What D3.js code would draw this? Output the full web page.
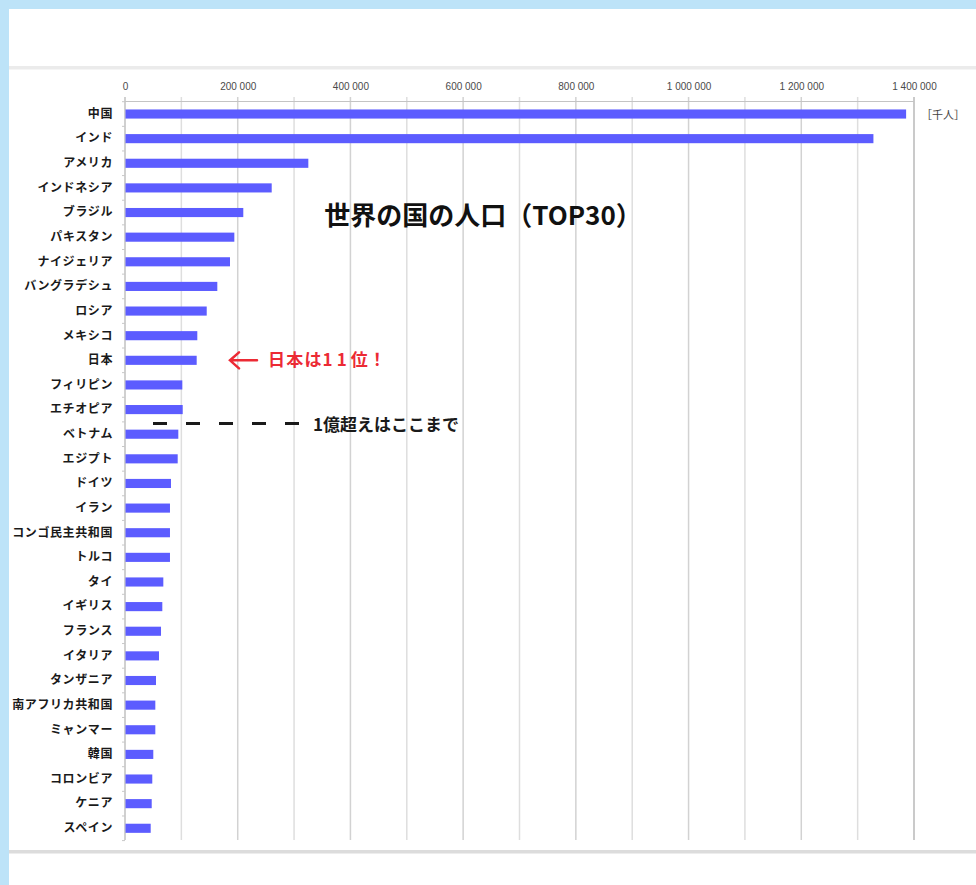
<!DOCTYPE html>
<html><head><meta charset="utf-8">
<script src="https://cdn.jsdelivr.net/npm/d3@7"></script>
<style>
html,body{margin:0;padding:0;background:#fff;}
svg{display:block;}
</style></head>
<body>
<svg id="chart" width="976" height="885"></svg>
<script>
const countries = ["中国","インド","アメリカ","インドネシア","ブラジル","パキスタン","ナイジェリア","バングラデシュ","ロシア","メキシコ","日本","フィリピン","エチオピア","ベトナム","エジプト","ドイツ","イラン","コンゴ民主共和国","トルコ","タイ","イギリス","フランス","イタリア","タンザニア","南アフリカ共和国","ミャンマー","韓国","コロンビア","ケニア","スペイン"];
const population = [1386000,1328000,325300,260300,209900,194000,186300,163800,145000,128300,127200,101700,102400,94600,93500,81600,79800,79800,79800,68000,66200,63900,60300,55000,53800,53800,50200,48400,47400,45600];
const majorTicks = [0,200000,400000,600000,800000,1000000,1200000,1400000];
const gridTicks = [0,100000,200000,300000,400000,500000,600000,700000,800000,900000,1000000,1100000,1200000,1300000,1400000];
const unitLabel = "［千人］";
const titleText = "世界の国の人口（TOP30）";
const overNote = "1億超えはここまで";

(function(){
const svg = d3.select("#chart");
const W = 976, H = 885;

// frame
svg.append("rect").attr("x",0).attr("y",0).attr("width",W).attr("height",H).attr("fill","#fff");
svg.append("rect").attr("x",0).attr("y",0).attr("width",W).attr("height",9).attr("fill","#bde3f8");
svg.append("rect").attr("x",0).attr("y",0).attr("width",9).attr("height",H).attr("fill","#bde3f8");
svg.append("rect").attr("x",9).attr("y",66).attr("width",W-9).attr("height",3.5).attr("fill","#ebebeb");
svg.append("rect").attr("x",9).attr("y",850).attr("width",W-9).attr("height",3.5).attr("fill","#dcdcdc");

const x = d3.scaleLinear().domain([0,1400000]).range([125,914]);
const y = d3.scaleBand().domain(countries).range([101.7,840.6]).paddingInner(0.63).paddingOuter(0.315);

const axisY = 101.5, bottomY = 840;

// gridlines
svg.append("g").selectAll("line").data(gridTicks).join("line")
  .attr("x1",d=>x(d)).attr("x2",d=>x(d))
  .attr("y1",97).attr("y2",bottomY)
  .attr("stroke",d=> d===1400000 ? "#b8b8b8" : (d%200000===0 ? "#d2d2d2" : "#dedede"))
  .attr("stroke-width",1.5);

// top axis line
svg.append("line").attr("x1",x(0)).attr("x2",x(1400000)).attr("y1",axisY).attr("y2",axisY)
  .attr("stroke","#c4c4c4").attr("stroke-width",1);

// top axis labels
const fmt = v => d3.format(",")(v).replace(/,/g," ");
const xAxis = d3.axisTop(x).tickValues(majorTicks).tickSize(0).tickPadding(12).tickFormat(fmt);
const gx = svg.append("g").attr("transform",`translate(0,${axisY})`).call(xAxis);
gx.select(".domain").remove();
gx.selectAll("text").attr("font-family","'Liberation Sans Narrow','Liberation Sans',Arial,sans-serif")
  .attr("font-size","10px").attr("fill","#4a4a4a");

// y axis line & small ticks
svg.append("line").attr("x1",x(0)).attr("x2",x(0)).attr("y1",97).attr("y2",bottomY)
  .attr("stroke","#c8c8c8").attr("stroke-width",1.2);
const half = y.step()*y.paddingInner()/2;
const boundaries = countries.map(c => y(c) - half).concat([y(countries[countries.length-1]) + y.bandwidth() + half]);
svg.append("g").selectAll("line").data(boundaries).join("line")
  .attr("x1",x(0)-3).attr("x2",x(0)).attr("y1",d=>d).attr("y2",d=>d)
  .attr("stroke","#c8c8c8").attr("stroke-width",1);

// y axis labels
const yAxis = d3.axisLeft(y).tickSize(0).tickPadding(12);
const gy = svg.append("g").attr("transform",`translate(${x(0)},0)`).call(yAxis);
gy.select(".domain").remove();
gy.selectAll("text").attr("font-family","'Noto Sans CJK JP',sans-serif")
  .attr("font-size","12px").attr("font-weight","bold").attr("fill","#1a1a1a")
  .attr("letter-spacing","0.6px");

// bars
svg.append("g").selectAll("rect").data(countries).join("rect")
  .attr("x",x(0)+0.5).attr("y",d=>y(d))
  .attr("width",(d,i)=>x(population[i])-x(0)-0.5)
  .attr("height",y.bandwidth())
  .attr("fill","#5c5cff");

// unit label
svg.append("text").attr("x",921).attr("y",119).text(unitLabel)
  .attr("font-family","'Noto Sans CJK JP',sans-serif").attr("font-size","11px").attr("fill","#444");

// title
svg.append("text").attr("x",483).attr("y",225).attr("text-anchor","middle").text(titleText)
  .attr("font-family","'Noto Sans CJK JP',sans-serif").attr("font-size","26px").attr("font-weight","bold").attr("fill","#111");

// Japan annotation
const jy = y("日本") + y.bandwidth()/2;
svg.append("path").attr("d",`M257,${jy} L230,${jy} M239,${jy-8} L230,${jy} L239,${jy+8}`)
  .attr("fill","none").attr("stroke","#ec2a34").attr("stroke-width",2.5).attr("stroke-linecap","round");
const jt = svg.append("text").attr("x",268).attr("y",jy+6).attr("letter-spacing","1.2px")
  .attr("font-family","'Noto Sans CJK JP',sans-serif").attr("font-size","17px").attr("font-weight","bold").attr("fill","#ec2a34");
jt.append("tspan").text("日本は");
jt.append("tspan").attr("letter-spacing","4px").text("11");
jt.append("tspan").text("位！");

// 100-million line annotation
const ly = (y("エチオピア") + y("ベトナム"))/2 + y.bandwidth()/2 + 1.5;
svg.append("line").attr("x1",153).attr("x2",299).attr("y1",ly).attr("y2",ly)
  .attr("stroke","#1a1a1a").attr("stroke-width",3).attr("stroke-dasharray","14,19");
svg.append("text").attr("x",313).attr("y",ly+8).text(overNote)
  .attr("font-family","'Noto Sans CJK JP',sans-serif").attr("font-size","17px").attr("font-weight","bold").attr("fill","#1a1a1a");
})();
</script>
</body></html>
